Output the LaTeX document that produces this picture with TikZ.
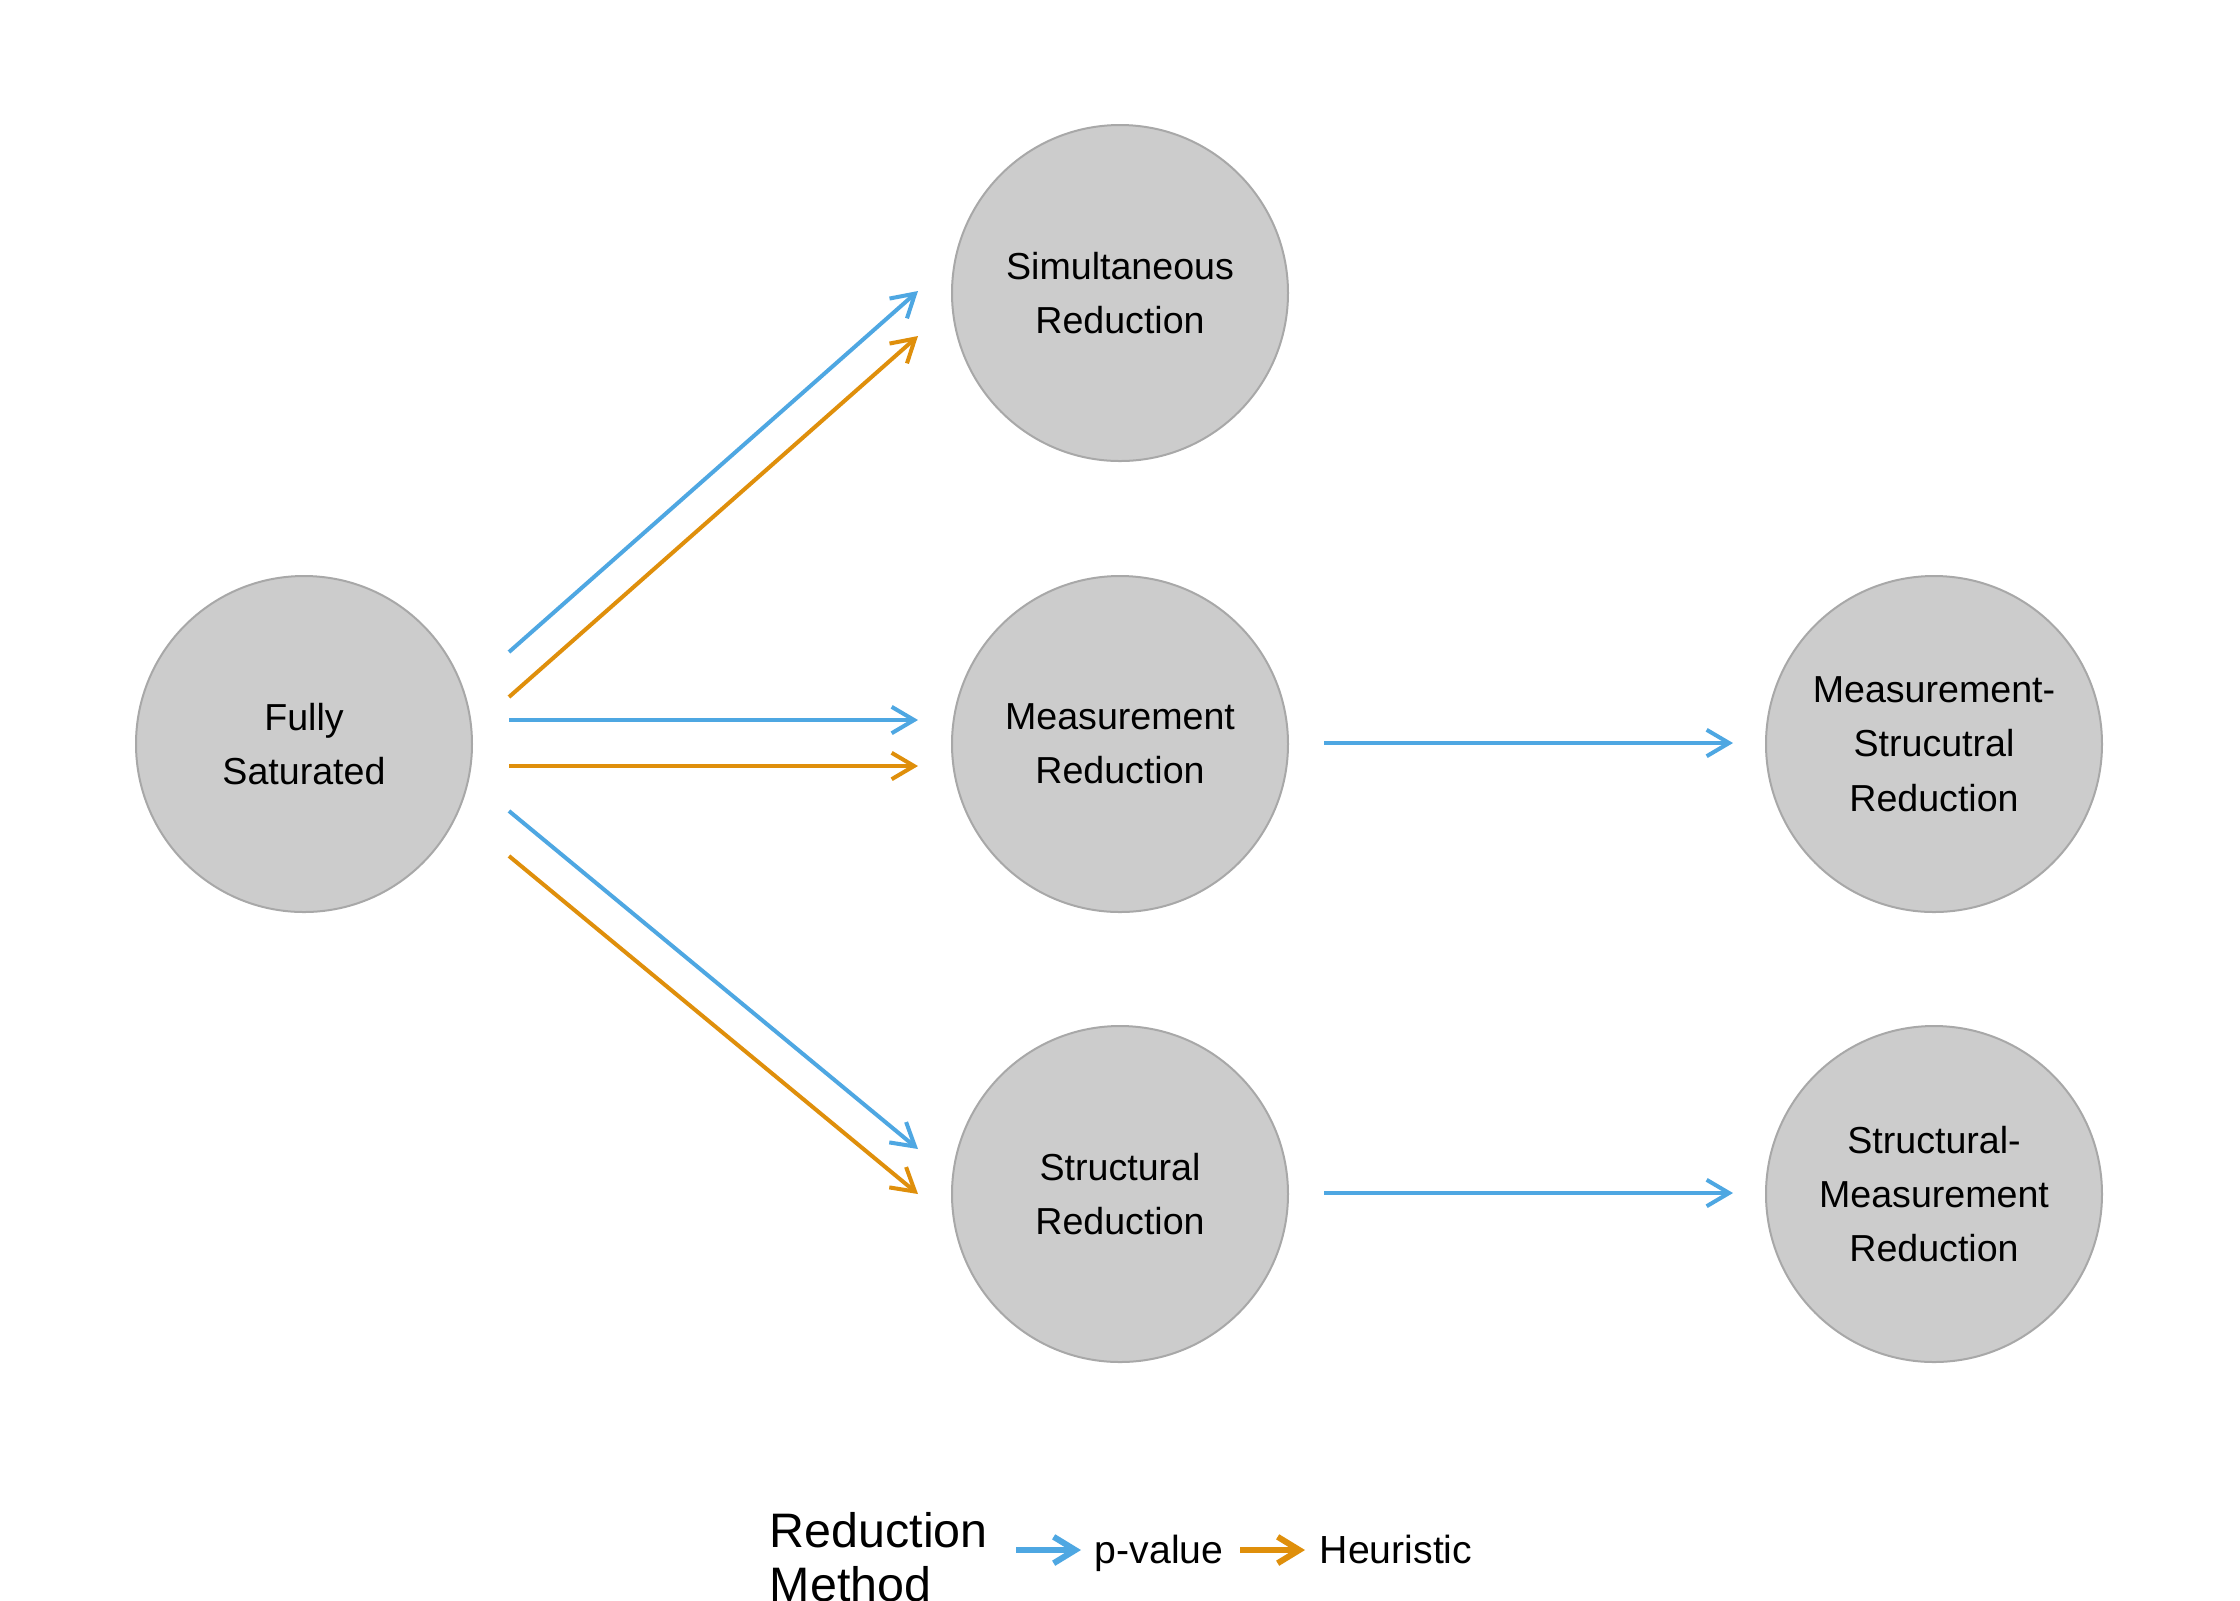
\documentclass[tikz,border=0pt]{standalone}
\usepackage{fontspec}
\setmainfont{Liberation Sans}
\usetikzlibrary{arrows.meta,calc}
\definecolor{pvblue}{HTML}{4EA7E2}
\definecolor{heurorange}{HTML}{DF8F0B}
\definecolor{nodefill}{HTML}{CCCCCC}
\definecolor{nodeline}{HTML}{A8A8A8}
\begin{document}
\begin{tikzpicture}[x=0.25pt,y=-0.25pt,
  statenode/.style={circle,fill=nodefill,draw=nodeline,line width=0.5pt,
    minimum size=84pt,inner sep=0pt,align=center,
    font={\fontsize{9.4pt}{13.6pt}\selectfont}},
  edgebase/.style={line width=1pt,-{Straight Barb[length=5.6pt,width=6.6pt]}},
  pvedge/.style={edgebase,draw=pvblue},
  heuredge/.style={edgebase,draw=heurorange},
  legarrow/.style={line width=1.5pt,-{Straight Barb[length=5.4pt,width=6.6pt]}},
  legtitle/.style={inner sep=0pt,anchor=base west,font={\fontsize{12.1pt}{13.25pt}\selectfont}},
  leglabel/.style={inner sep=0pt,anchor=base west,font={\fontsize{9.8pt}{12pt}\selectfont}}
]
\useasboundingbox[fill=white] (0,0) rectangle (2240,1600);

% nodes
\node[statenode] (fs)  at (304,744)  {Fully\\Saturated};
\node[statenode] (sim) at (1120,293) {Simultaneous\\Reduction};
\node[statenode] (mea) at (1120,744) {Measurement\\Reduction};
\node[statenode] (str) at (1120,1194) {Structural\\Reduction};
\node[statenode] (ms)  at (1934,744) {Measurement-\\Strucutral\\Reduction};
\node[statenode] (sm)  at (1934,1194) {Structural-\\Measurement\\Reduction};

% edges
\draw[pvedge]   ($(fs)+(205,-92)$) -- ($(sim)+(-202,-2)$);
\draw[heuredge] ($(fs)+(205,-47)$) -- ($(sim)+(-202,43)$);
\draw[pvedge]   ($(fs)+(205,-24)$) -- ($(mea)+(-202,-24)$);
\draw[heuredge] ($(fs)+(205,22)$)  -- ($(mea)+(-202,22)$);
\draw[pvedge]   ($(fs)+(205,67)$)  -- ($(str)+(-202,-45)$);
\draw[heuredge] ($(fs)+(205,112)$) -- ($(str)+(-202,0)$);
\draw[pvedge]   ($(mea)+(204,-1)$)  -- ($(ms)+(-201,-1)$);
\draw[pvedge]   ($(str)+(204,-1)$)  -- ($(sm)+(-201,-1)$);

% legend
\node[legtitle] (lt1) at (769,1547) {Reduction};
\node[legtitle] (lt2) at (769,1601) {Method};
\coordinate (pa1) at (1016,1550);
\coordinate (pa2) at (1081,1550);
\coordinate (ha1) at (1240,1550);
\coordinate (ha2) at (1305,1550);
\draw[legarrow,draw=pvblue] (pa1) -- (pa2);
\node[leglabel] (lpv) at (1094,1563) {p-value};
\draw[legarrow,draw=heurorange] (ha1) -- (ha2);
\node[leglabel] (lhe) at (1319,1563) {Heuristic};
\end{tikzpicture}
\end{document}
